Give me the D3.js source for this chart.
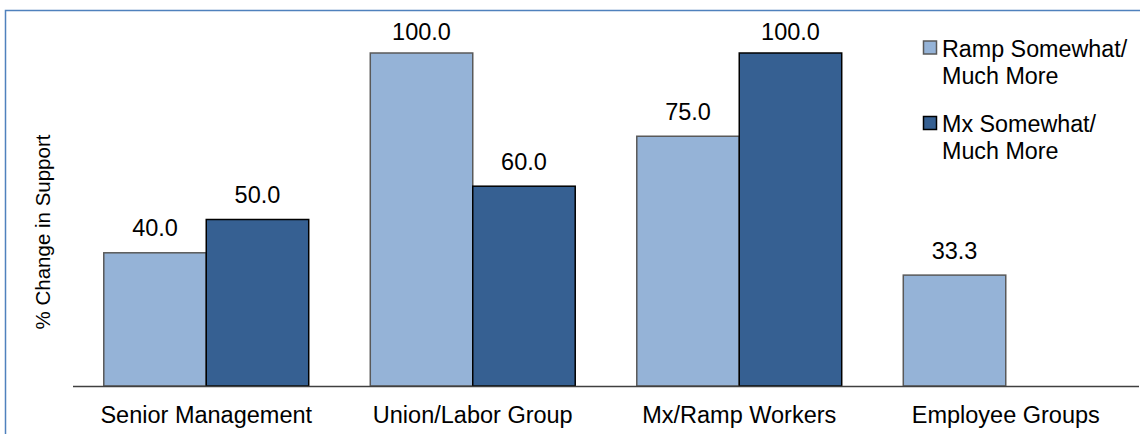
<!DOCTYPE html>
<html>
<head>
<meta charset="utf-8">
<script src="https://cdnjs.cloudflare.com/ajax/libs/d3/7.8.5/d3.min.js"></script>
<style>
    body { margin: 0; background: #fff; }
    svg { display: block; font-family: "Liberation Sans", Arial, sans-serif; }
</style>
</head>
<body>
<svg width="1140" height="434"></svg>
<script>
/** data */
var categories = ['Senior Management', 'Union/Labor Group', 'Mx/Ramp Workers', 'Employee Groups'];
var seriesNames = ['Ramp Somewhat/\nMuch More', 'Mx Somewhat/\nMuch More'];
var rampValues = [40.0, 100.0, 75.0, 33.3];
var mxValues = [50.0, 60.0, 100.0, null];
var yDomain = [0, 100];

function BarChart() {
    var bc = this;
    /** Constants */
    bc.fills = ['#95B3D7', '#366092'];
    bc.strokes = ['#595959', '#000000'];
    bc.left = 73;
    bc.right = 1139;
    bc.top = 53;
    bc.bottom = 386;

    bc.svg;
    bc.x;
    bc.xInner;
    bc.y;

    bc.init = function() {
        bc.svg = d3.select('svg');
        bc.x = d3.scaleBand().domain(categories).range([bc.left, bc.right]).paddingInner(0.231).paddingOuter(0.1155);
        bc.xInner = d3.scaleBand().domain([0, 1]).range([0, bc.x.bandwidth()]);
        bc.y = d3.scaleLinear().domain(yDomain).range([bc.bottom, bc.top]);

        renderFrame();
        renderBars();
        renderAxis();
        renderLegend();
    }

    function renderFrame() {
        bc.svg.append('rect')
            .attr('x', 5.5).attr('y', 10.5)
            .attr('width', 1300).attr('height', 600)
            .attr('fill', 'none')
            .attr('stroke', '#4F81BD')
            .attr('stroke-width', 1.5);
    }

    function renderBars() {
        var rows = [];
        categories.forEach(function(c, i) {
            [rampValues[i], mxValues[i]].forEach(function(v, s) {
                if (v != null) rows.push({ cat: c, s: s, value: v });
            });
        });

        var g = bc.svg.append('g');
        g.selectAll('rect').data(rows).enter().append('rect')
            .attr('x', d => bc.x(d.cat) + bc.xInner(d.s))
            .attr('y', d => bc.y(d.value))
            .attr('width', bc.xInner.bandwidth())
            .attr('height', d => bc.y(0) - bc.y(d.value))
            .attr('fill', d => bc.fills[d.s])
            .attr('stroke', d => bc.strokes[d.s])
            .attr('stroke-width', 1.5);

        // value labels, clamped under the top of the frame
        g.selectAll('text').data(rows).enter().append('text')
            .attr('x', d => bc.x(d.cat) + bc.xInner(d.s) + bc.xInner.bandwidth() / 2)
            .attr('y', d => Math.max(bc.y(d.value) - 16.5, 40))
            .attr('text-anchor', 'middle')
            .style('font-size', '23.5px')
            .attr('fill', '#000')
            .text(d => d.value.toFixed(1));
    }

    function renderAxis() {
        var axis = bc.svg.append('g')
            .attr('transform', 'translate(0,' + bc.bottom + ')')
            .call(d3.axisBottom(bc.x).tickSize(0).tickPadding(0));
        axis.select('.domain').attr('stroke', '#404040').attr('stroke-width', 1.3)
            .attr('d', 'M' + bc.left + ',0.5H' + bc.right);
        axis.selectAll('.tick text')
            .attr('y', 37)
            .attr('dy', null)
            .style('font-size', '23.5px')
            .style('font-family', '"Liberation Sans", Arial, sans-serif')
            .attr('fill', '#000');

        bc.svg.append('text')
            .attr('transform', 'translate(50,232) rotate(-90)')
            .attr('text-anchor', 'middle')
            .style('font-size', '20.5px')
            .text('% Change in Support');
    }

    function renderLegend() {
        var tops = [41, 116.5];
        var g = bc.svg.append('g');
        seriesNames.forEach(function(name, s) {
            g.append('rect')
                .attr('x', 923.5).attr('y', tops[s])
                .attr('width', 13).attr('height', 13)
                .attr('fill', bc.fills[s])
                .attr('stroke', bc.strokes[s])
                .attr('stroke-width', 1.5);
            var t = g.append('text')
                .attr('x', 942).attr('y', tops[s] + 15.5)
                .style('font-size', '23.3px');
            name.split('\n').forEach(function(line, k) {
                t.append('tspan').attr('x', 942).attr('dy', k === 0 ? 0 : 27).text(line);
            });
        });
    }
}

var chart = new BarChart();
chart.init();
</script>
</body>
</html>
